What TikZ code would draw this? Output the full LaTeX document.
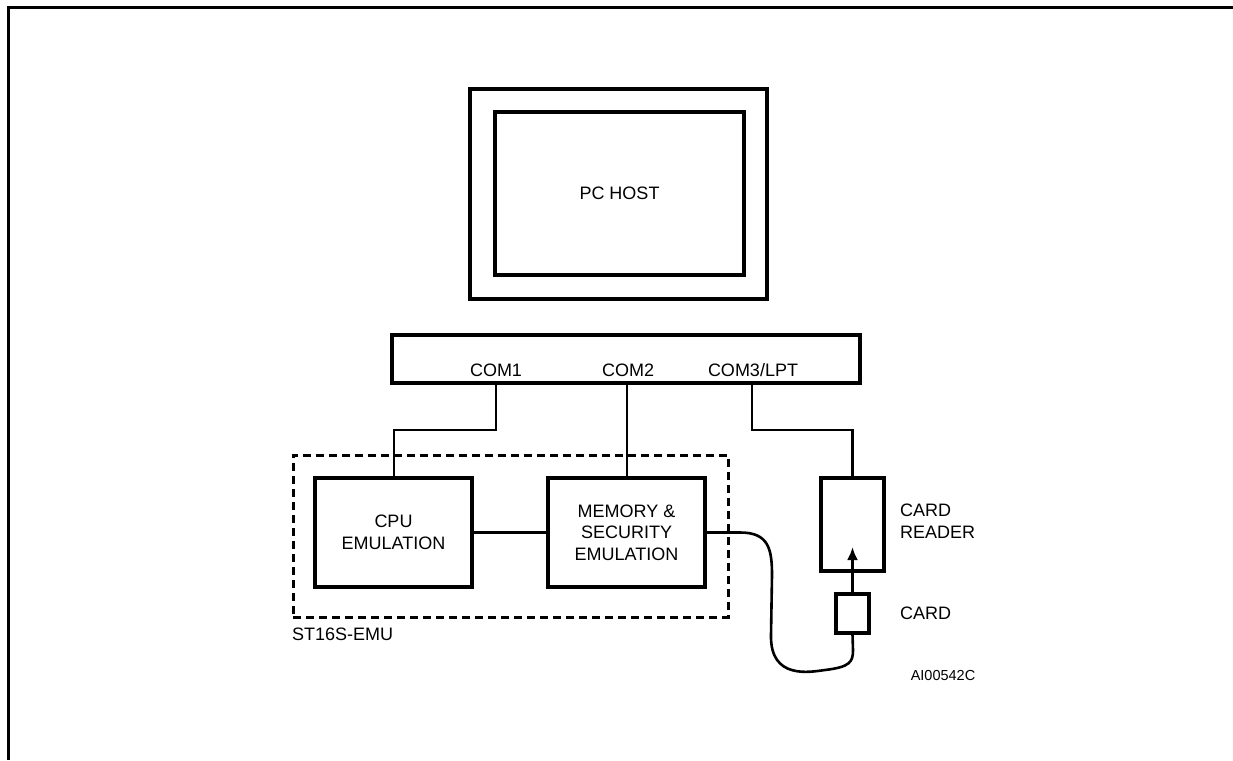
\documentclass[tikz,border=0pt]{standalone}
\usepackage{fontspec}
\setmainfont{Liberation Sans}
\usetikzlibrary{arrows.meta}
\begin{document}
\begin{tikzpicture}[x=1pt,y=-1pt,
  box/.style={draw,line width=3.6pt,inner sep=0pt},
  wire/.style={line width=2.6pt},
  lbl/.style={font=\fontsize{18}{21.5}\selectfont,align=center,inner sep=0pt}]
\useasboundingbox (0,0) rectangle (1233,760);
% frame
\draw[line width=3pt] (8,760) -- (8,8) -- (1233,8);
% PC host
\node[box,minimum width=297pt,minimum height=210pt] (pcout) at (618.5,194) {};
\node[box,minimum width=249pt,minimum height=163pt,lbl] (pcin) at (619.5,193.5) {PC HOST};
% COM bar
\node[box,minimum width=468pt,minimum height=48pt] (bar) at (626,359) {};
\node[lbl,anchor=base] (com1) at (496,376) {COM1};
\node[lbl,anchor=base] (com2) at (628,376) {COM2};
\node[lbl,anchor=base] (com3) at (753,376) {COM3/LPT};
% dashed group
\node[draw,line width=3pt,dash pattern=on 8pt off 5pt,minimum width=435pt,minimum height=162pt,inner sep=0pt] (grp) at (510.5,536) {};
\node[lbl,anchor=base west] (grplbl) at (292,640) {ST16S-EMU};
% CPU
\node[box,minimum width=157pt,minimum height=109pt,lbl] (cpu) at (393.5,532.5) {CPU\\EMULATION};
\node[box,minimum width=157pt,minimum height=109pt,lbl] (mem) at (626.5,532.5) {MEMORY \&\\SECURITY\\EMULATION};
% card reader
\node[box,minimum width=63pt,minimum height=93pt] (rdr) at (852.5,524.5) {};
\node[lbl,align=left,anchor=west] (rdrlbl) at (900,521) {CARD\\READER};
\node[box,minimum width=33pt,minimum height=39pt] (card) at (852.5,613.5) {};
\node[lbl,anchor=west] (cardlbl) at (900,613) {CARD};
\node[anchor=base,inner sep=0pt,font=\fontsize{14.5}{17}\selectfont] (id) at (943,680) {AI00542C};
% connections
\draw[wire] (bar.south -| 496,0) -- (496,430) -- (394,430) -- (cpu.north -| 394,0);
\draw[wire] (bar.south -| 627,0) -- (mem.north -| 627,0);
\draw[wire] (bar.south -| 752,0) -- (752,430) -- (rdr.north |- 0,430) -- (rdr.north);
\draw[wire] (cpu.east) -- (mem.east -| mem.west);
\draw[wire] (mem.east) -- (740,532.5)
  .. controls (768,532.5) and (772,548) .. (772,575)
  -- (771,635)
  .. controls (770,680) and (810,672) .. (825,670)
  .. controls (850,667) and (853,662) .. (853,650)
  -- (card.south);
\draw[wire,-{Latex[length=13pt,width=11pt]}] (card.north) -- (852.5,547);
\end{tikzpicture}
\end{document}
